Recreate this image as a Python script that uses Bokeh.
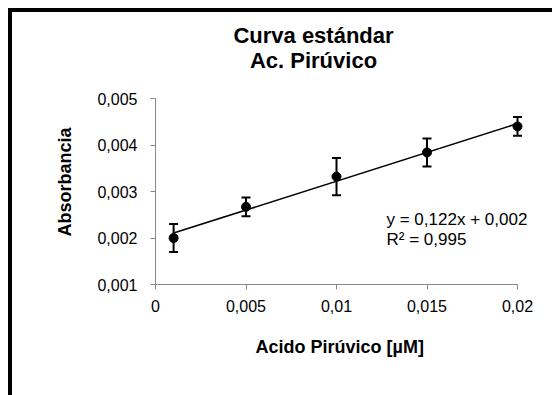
import numpy as np
from bokeh.plotting import figure
from bokeh.models import (ColumnDataSource, Range1d, FixedTicker, Whisker, TeeHead,
                          Label, Title)
from bokeh.embed import file_html
from bokeh.resources import INLINE

# ---- data ----
conc = [0.001, 0.005, 0.01, 0.015, 0.02]
absorb = [0.0020, 0.00267, 0.00332, 0.00384, 0.00440]
err = [0.0003, 0.0002, 0.0004, 0.0003, 0.0002]
x_ticks = [0, 0.005, 0.01, 0.015, 0.02]
x_tick_labels = ["0", "0,005", "0,01", "0,015", "0,02"]
y_ticks = [0.001, 0.002, 0.003, 0.004, 0.005]
y_tick_labels = ["0,001", "0,002", "0,003", "0,004", "0,005"]
title_lines = ["Curva estándar", "Ac. Pirúvico"]
x_label = "Acido Pirúvico [µM]"
y_label = "Absorbancia"
eq_lines = ["y = 0,122x + 0,002", "R² = 0,995"]

FONT = "Liberation Sans"
AXIS_GREY = "#888888"

# canvas geometry (canvas is offset 12px by the outer border)
W, H = 544, 387
F_LEFT, F_BOTTOM = 143, 272          # frame left / bottom in canvas px
AX_RIGHT, AX_TOP = 505, 86           # where x=0.02 and y=0.005 fall
x0, x1 = x_ticks[0], x_ticks[-1]
y0, y1 = y_ticks[0], y_ticks[-1]
x_end = x0 + (x1 - x0) * (W - F_LEFT) / (AX_RIGHT - F_LEFT)
y_end = y0 + (y1 - y0) * F_BOTTOM / (F_BOTTOM - AX_TOP)

p = figure(width=W, height=H, output_backend="svg", toolbar_location=None,
           x_range=Range1d(x0, x_end), y_range=Range1d(y0, y_end),
           min_border_left=F_LEFT, min_border_right=0,
           min_border_top=0, min_border_bottom=H - F_BOTTOM)
p.margin = (8, 0, 0, 8)
p.styles = {"border-left": "4px solid black", "border-top": "4px solid black"}
p.outline_line_color = None
p.xgrid.grid_line_color = None
p.ygrid.grid_line_color = None
p.background_fill_color = "white"
p.border_fill_color = "white"

for ax, ticks, labels in ((p.xaxis[0], x_ticks, x_tick_labels), (p.yaxis[0], y_ticks, y_tick_labels)):
    ax.ticker = FixedTicker(ticks=ticks)
    ax.bounds = (ticks[0], ticks[-1])
    ax.major_label_overrides = {t: l for t, l in zip(ticks, labels)}
    ax.axis_line_color = AXIS_GREY
    ax.major_tick_line_color = AXIS_GREY
    ax.minor_tick_line_color = None
    ax.major_tick_in = 0
    ax.major_tick_out = 5
    ax.major_label_text_font = FONT
    ax.major_label_text_font_size = "16px"
    ax.major_label_text_color = "black"
p.xaxis.major_label_standoff = 10
p.yaxis.major_label_standoff = 13

src = ColumnDataSource(dict(x=conc, y=absorb,
                            upper=[a + e for a, e in zip(absorb, err)],
                            lower=[a - e for a, e in zip(absorb, err)]))

# trend line (least squares)
m, b = np.polyfit(conc, absorb, 1)
xs = [min(conc), max(conc)]
p.line(xs, [m * v + b for v in xs], line_color="black", line_width=1.6)

w = Whisker(source=src, base="x", upper="upper", lower="lower",
            line_color="black", line_width=2,
            upper_head=TeeHead(size=9, line_color="black", line_width=2),
            lower_head=TeeHead(size=9, line_color="black", line_width=2))
p.add_layout(w)
p.scatter("x", "y", source=src, size=9, color="black")

# chart title (inside the extended frame area)
for txt, yb in ((title_lines[0], 19), (title_lines[1], 44)):
    p.add_layout(Label(x=297, y=yb, x_units="canvas", y_units="canvas", text=txt,
                       text_font=FONT, text_font_size="22px", text_font_style="bold",
                       text_color="black", text_align="center", text_baseline="alphabetic"))
# trendline equation
for txt, yb in ((eq_lines[0], 203), (eq_lines[1], 223)):
    p.add_layout(Label(x=370, y=yb, x_units="canvas", y_units="canvas", text=txt,
                       text_font=FONT, text_font_size="17px", text_color="black",
                       text_align="left", text_baseline="alphabetic"))

# axis titles
p.add_layout(Title(text=x_label, align="left", offset=100, standoff=40,
                   text_font=FONT, text_font_size="18px", text_font_style="bold",
                   text_color="black"), "below")
p.add_layout(Title(text=y_label, align="left", offset=48, standoff=40,
                   text_font=FONT, text_font_size="18px", text_font_style="bold",
                   text_color="black"), "left")

open("out.html", "w").write(file_html(p, INLINE))
